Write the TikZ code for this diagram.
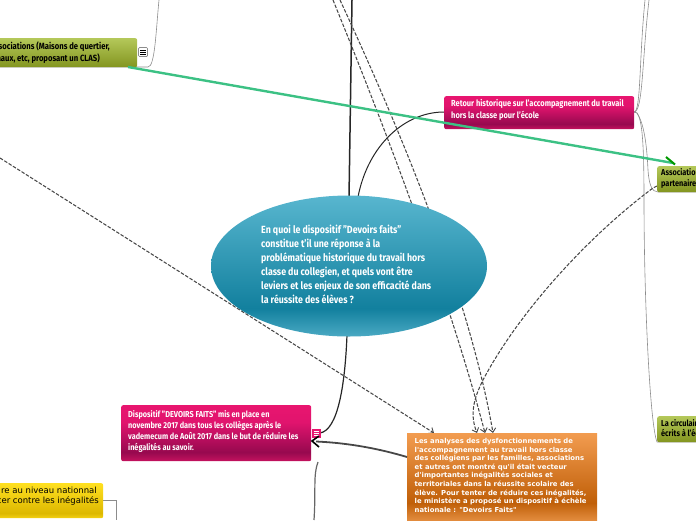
\documentclass[tikz,border=0pt]{standalone}
\usepackage{fontspec}
\setmainfont[FakeStretch=0.85]{Fira Sans}
\newfontfamily\verdanaish{DejaVu Sans}
\usetikzlibrary{arrows.meta,shapes.geometric}
\definecolor{greenline}{HTML}{3CC184}
\definecolor{pinkT}{HTML}{E8156F}
\pgfdeclareverticalshading{pinkshade}{100bp}{color(0bp)=(pinkT!85!black); color(25bp)=(pinkT!85!black); color(33bp)=(rgb,255:red,151;green,9;blue,79); color(60bp)=(rgb,255:red,225;green,20;blue,110); color(75bp)=(pinkT); color(100bp)=(pinkT)}
\pgfdeclareverticalshading{tealshade}{100bp}{color(0bp)=(rgb,255:red,74;green,169;blue,195); color(25bp)=(rgb,255:red,74;green,169;blue,195); color(35bp)=(rgb,255:red,18;green,128;blue,158); color(75bp)=(rgb,255:red,88;green,182;blue,207); color(100bp)=(rgb,255:red,88;green,182;blue,207)}
\pgfdeclareverticalshading{orangeshade}{100bp}{color(0bp)=(rgb,255:red,226;green,140;blue,62); color(25bp)=(rgb,255:red,226;green,140;blue,62); color(35bp)=(rgb,255:red,192;green,95;blue,8); color(75bp)=(rgb,255:red,242;green,156;blue,80); color(100bp)=(rgb,255:red,242;green,156;blue,80)}
\pgfdeclareverticalshading{oliveshade}{100bp}{color(0bp)=(rgb,255:red,131;green,149;blue,31); color(25bp)=(rgb,255:red,131;green,149;blue,31); color(75bp)=(rgb,255:red,180;green,200;blue,90); color(100bp)=(rgb,255:red,180;green,200;blue,90)}
\pgfdeclareverticalshading{yellowshade}{100bp}{color(0bp)=(rgb,255:red,245;green,210;blue,20); color(25bp)=(rgb,255:red,245;green,210;blue,20); color(32bp)=(rgb,255:red,221;green,184;blue,0); color(75bp)=(rgb,255:red,255;green,224;blue,32); color(100bp)=(rgb,255:red,255;green,224;blue,32)}
\tikzset{
  x=1pt,y=-1pt,
  boxbase/.style={rounded corners=2pt,inner sep=0pt,anchor=north west},
  pinkbox/.style={boxbase,shading=pinkshade},
  olivebox/.style={boxbase,shading=oliveshade},
  pinktext/.style={inner sep=0pt,anchor=north west,text=white,font=\fontsize{8.8}{12}\selectfont\bfseries,align=left},
  olivetext/.style={inner sep=0pt,font=\fontsize{9}{11}\selectfont\bfseries,align=left},
  dashline/.style={draw=black!72,dash pattern=on 3.5pt off 1.6pt,line width=1.05pt},
  dasharrow/.style={dashline,-{Straight Barb[length=4pt,width=7pt,line width=.9pt]}},
  thinline/.style={draw=black!45,line width=.6pt},
  darkline/.style={draw=black!85,line width=1pt},
  greenarrow/.style={draw=greenline,line width=2.4pt},
  iconbar/.style={line width=.8pt},
}
\begin{document}
\begin{tikzpicture}
\useasboundingbox (0,0) rectangle (696,520);
% thin tree lines right
\coordinate (rj) at (634,112);
\draw[thinline] (rj) .. controls (643,112) and (642,60) .. (649,0);
\draw[thinline] (rj) .. controls (641,112) and (639,60) .. (645,0);
\draw[thinline] (rj) -- (637,113) .. controls (645,125) and (647,150) .. (648,170) .. controls (649,185) and (652,192) .. (658,192) -- (696,192);
\draw[thinline] (rj) -- (637,113) .. controls (642,120) and (644,140) .. (644,200) .. controls (644,300) and (650,425) .. (657,442) -- (696,442);
% left top thin
\draw[thinline] (0,67) -- (148,67) .. controls (155,67) and (156,30) .. (159,0);
% dark lines
\coordinate (topdark) at (352,0);
\coordinate (histstart) at (358,197);
\draw[draw=black!85,line width=1.5pt] (topdark) -- (349,198);
\draw[darkline] (histstart) .. controls (368,145) and (405,112) .. (444,112);
\draw[draw=black!85,line width=1.2pt] (347,335) .. controls (345,385) and (338,430) .. (320,433);
\draw[draw=black!60,line width=1.2pt] (318,462) .. controls (313,475) and (316,490) .. (314,520);
\draw[thinline] (103,500) -- (116,500) -- (116,520);
% dashed
\draw[dasharrow] (333,0) .. controls (390,140) and (450,300) .. (485,433);
\draw[dasharrow] (340,0) .. controls (405,140) and (470,300) .. (493,433);
\draw[dasharrow] (0,158) -- (434,433);
\draw[dasharrow] (657,186) -- (653,188) .. controls (590,235) and (520,310) .. (483,380) .. controls (473,400) and (470,415) .. (477,433);
% ellipse
\node[ellipse,minimum width=276pt,minimum height=141pt,inner sep=0pt,shading=tealshade] (main) at (349,266) {};
\node[anchor=north west,inner sep=0pt,text=white,font=\fontsize{10.4}{14}\selectfont\bfseries,align=left] (maintxt) at (261,225) {En quoi le dispositif "Devoirs faits"\\constitue t'il une réponse à la\\problématique historique du travail hors\\classe du collegien, et quels vont être\\leviers et les enjeux de son efficacité dans\\la réussite des élèves ?};
% boxes
\node[pinkbox,minimum width=190pt,minimum height=33pt] (retour) at (444,96) {};
\node[pinktext] (retourtxt) at (451,99) {Retour historique sur l'accompagnement du travail\\hors la classe pour l'école};
\node[pinkbox,minimum width=190pt,minimum height=56pt] (dispo) at (121,405) {};
\node[pinktext,font=\fontsize{8.6}{11}\selectfont\bfseries] (dispotxt) at (128,410) {Dispositif "DEVOIRS FAITS" mis en place en\\novembre 2017 dans tous les collèges après le\\vademecum de Août 2017 dans le but de réduire les\\inégalités au savoir.};
\begin{scope}
\clip (0,0) rectangle (696,520);
\node[olivebox,minimum width=147pt,minimum height=29pt] (assoc) at (-10,38) {};
\node[olivetext,anchor=east] (assoca) at (110,46.5) {Associations (Maisons de quertier,};
\node[olivetext,anchor=east] (assocb) at (100,58.5) {Réseaaux, etc, proposant un CLAS)};
\node[olivebox,minimum width=60pt,minimum height=26pt] (assoc2) at (657,166) {};
\node[olivetext,anchor=north west,font=\fontsize{8.6}{11}\selectfont\bfseries] (assoc2txt) at (661,168.5) {Associations\\partenaires};
\node[olivebox,minimum width=60pt,minimum height=26pt] (circ) at (657,416) {};
\node[olivetext,anchor=north west,font=\fontsize{8.6}{10}\selectfont\bfseries] (circtxt) at (661,419.5) {La circulaire\\écrits à l'école};
\node[boxbase,shading=yellowshade,minimum width=150pt,minimum height=35pt] (yel) at (-47,483) {};
\node[inner sep=0pt,anchor=east,font=\verdanaish\fontsize{8.5}{11}\selectfont] (yela) at (97,490) {re au niveau nationnal};
\node[inner sep=0pt,anchor=east,font=\verdanaish\fontsize{8.5}{11}\selectfont] (yelb) at (99,501) {cer contre les inégalités};
\end{scope}
% note icons
\node[draw=black!45,fill=white,minimum size=9pt,inner sep=0pt,rounded corners=1pt,line width=.7pt] (ic1) at (143,52) {};
\foreach \yy in {-2,0,2}{\draw[iconbar] ([xshift=-3pt,yshift=\yy pt]ic1.center) -- ([xshift=3pt,yshift=\yy pt]ic1.center);}
\node[draw=pinkT,fill=pinkT,minimum size=8pt,inner sep=0pt] (ic2) at (316.5,433) {};
\foreach \yy in {-2,0,2}{\draw[iconbar,draw=white] ([xshift=-2.8pt,yshift=\yy pt]ic2.center) -- ([xshift=2.8pt,yshift=\yy pt]ic2.center);}
% orange
\node[rectangle,shading=orangeshade,minimum width=190pt,minimum height=87pt,inner sep=0pt,anchor=north west] (ana) at (407,433) {};
\node[inner sep=0pt,anchor=north west,text=white,font=\verdanaish\bfseries\fontsize{6.85}{8.6}\selectfont,align=left] (anatxt) at (414.5,438) {Les analyses des dysfonctionnements de\\l'accompagnement au travail hors classe\\des collégiens par les familles, associations\\et autres ont montré qu'il était vecteur\\d'importantes inégalités sociales et\\territoriales dans la réussite scolaire des\\élève. Pour tenter de réduire ces inégalités,\\le ministère a proposé un dispositif à échèle\\nationale : "Devoirs Faits"};
% arrows
\coordinate (greenstart) at (128,67);
\draw[greenarrow] (greenstart) -- (673,163);
\draw[draw=green!60!black,line width=2pt] (666,157) -- (675,164.5);
\draw[draw=black!72,line width=1.8pt] (ana.west|-0,457) .. controls (380,449) and (350,443) .. (316,441.5);
\draw[draw=black,line width=1.6pt] (319,436) -- (312,441) -- (319,447);
\end{tikzpicture}
\end{document}
